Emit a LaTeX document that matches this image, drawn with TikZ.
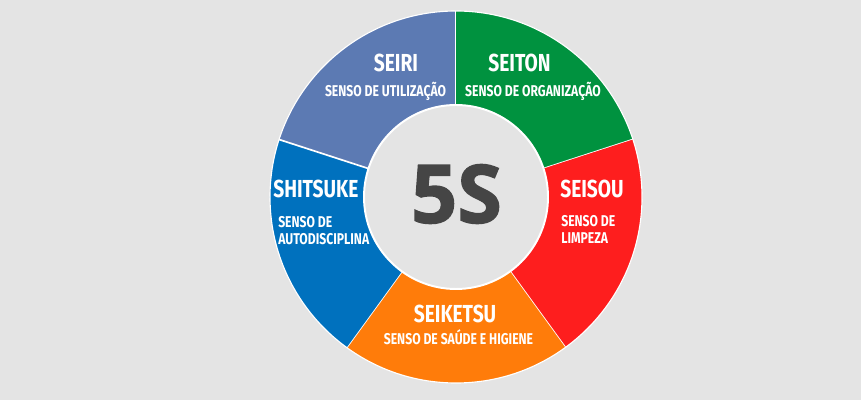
\documentclass[tikz,border=0pt]{standalone}
\usepackage{fontspec}
\usepackage{tikz}
\usetikzlibrary{positioning,calc}
\setmainfont{Fira Sans}
\newfontfamily\lblfont[FakeStretch=0.78]{Fira Sans}
\newfontfamily\bigfont[FakeBold=1.5]{Open Sans}
\definecolor{bggray}{RGB}{228,228,228}
\definecolor{seiriblue}{RGB}{92,122,179}
\definecolor{seitongreen}{RGB}{0,146,63}
\definecolor{seisoured}{RGB}{254,30,30}
\definecolor{seiketsuorange}{RGB}{255,124,10}
\definecolor{shitsukeblue}{RGB}{0,113,190}
\definecolor{darkgray}{RGB}{69,69,69}

\begin{document}
\begin{tikzpicture}[x=0.025cm, y=0.025cm,
    sname/.style={white, inner sep=0pt, font=\lblfont\bfseries\fontsize{17.5}{18}\selectfont},
    sdesc/.style={white, inner sep=0pt, align=left, font=\lblfont\bfseries\fontsize{11.1}{12}\selectfont}]
        % fond
        \fill[bggray] (0,0) rectangle (861,400);
        \useasboundingbox (0,0) rectangle (861,400);
        \coordinate (c) at (456,203);
        % secteurs
        \foreach \a/\b/\col in {90/162/seiriblue, 18/90/seitongreen, -54/18/seisoured,
                                -126/-54/seiketsuorange, 162/234/shitsukeblue} {
            \fill[\col] (c) -- ++(\a:186) arc[start angle=\a, end angle=\b, radius=186] -- cycle;
            \draw[white, line width=1.2pt] (c) -- ++(\a:186);
        }
        \draw[white, line width=0.8pt] (c) circle[radius=186];
        % cercle central
        \fill[bggray, draw=white, line width=1.4pt] (c) circle[radius=92];
        \node[inner sep=0pt, darkgray, font=\bigfont\bfseries\fontsize{57.6}{60}\selectfont] (fives) at (456.5,206) {5S};
        % textes
        \node[sname, anchor=base] (seiri) at (396,328) {SEIRI};
        \node[sdesc, anchor=base] (seiridesc) at (385.5,303) {SENSO DE UTILIZAÇÃO};
        \node[sname, anchor=base] (seiton) at (519.5,328) {SEITON};
        \node[sdesc, anchor=base] (seitondesc) at (533,303) {SENSO DE ORGANIZAÇÃO};
        \node[sname, anchor=base west] (seisou) at (560,202) {SEISOU};
        \node[sdesc, anchor=base west] (seisoudesc1) at (561,173) {SENSO DE};
        \node[sdesc, anchor=base west] (seisoudesc2) at (561,156) {LIMPEZA};
        \node[sname, anchor=base] (seiketsu) at (455,77) {SEIKETSU};
        \node[sdesc, anchor=base] (seiketsudesc) at (458.5,55) {SENSO DE SAÚDE E HIGIENE};
        \node[sname, anchor=base west] (shitsuke) at (273,202) {SHITSUKE};
        \node[sdesc, anchor=base west] (shitsukedesc1) at (278,172) {SENSO DE};
        \node[sdesc, anchor=base west] (shitsukedesc2) at (278,155) {AUTODISCIPLINA};
    \end{tikzpicture}
\end{document}
